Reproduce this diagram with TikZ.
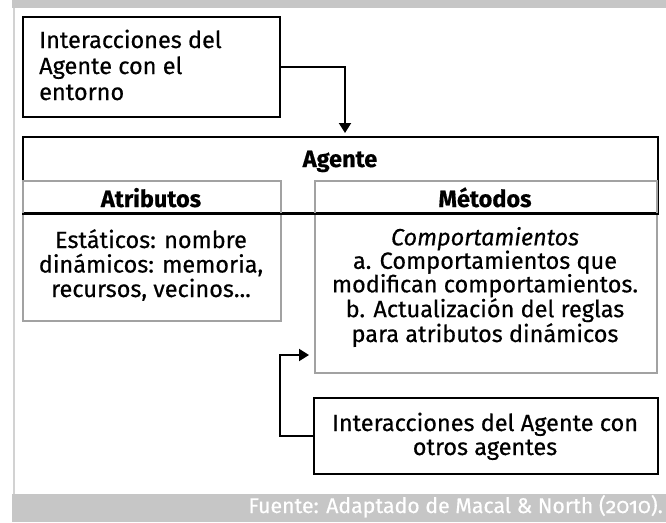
\documentclass[tikz,border=0pt]{standalone}
\usepackage{fontspec}
\setmainfont{Fira Sans}[FakeBold=0.5]
\newfontfamily\oldnum{Fira Sans}[Numbers=OldStyle,FakeBold=0.5]
\usetikzlibrary{arrows.meta}
\definecolor{barg}{HTML}{C6C6C6}
\definecolor{boxg}{HTML}{A2A2A2}
\definecolor{lineg}{HTML}{D2D2D2}
\begin{document}
\begin{tikzpicture}[x=1pt,y=-1pt,
  blackbox/.style={draw=black,line width=2pt,inner sep=0pt,anchor=north west},
  graybox/.style={draw=boxg,line width=2pt,inner sep=0pt,anchor=north west},
  txt/.style={inner sep=0pt,font=\fontsize{23.5}{26}\selectfont},
  conn/.style={line width=2pt,-{Triangle[length=10pt,width=12pt]}}]
\useasboundingbox (0,0) rectangle (666,522);
\fill[barg] (12,0) rectangle (666,8);
\fill[barg] (12,494) rectangle (666,522);
\draw[lineg,line width=2pt] (13.5,8) -- (13.5,494);
% boxes
\node[blackbox,minimum width=257pt,minimum height=100pt] (env) at (22,16) {};
\node[blackbox,minimum width=635pt,minimum height=76pt] (agent) at (22,136) {};
\node[graybox,minimum width=258pt,minimum height=140pt] (atr) at (22,180) {};
\node[graybox,minimum width=342pt,minimum height=192pt] (met) at (314,180) {};
\node[blackbox,minimum width=344pt,minimum height=76pt] (otros) at (313,397) {};
\draw[line width=2pt] (agent.south west) -- (agent.south east);
% texts (base = last line)
\node[txt,anchor=base west,align=left] (t1) at (39,100) {Interacciones del\\Agente con el\\entorno};
\node[txt,anchor=base] (tag) at (340,167) {\textbf{Agente}};
\node[txt,anchor=base] (tat) at (151,207) {\textbf{Atributos}};
\node[txt,anchor=base,align=center,font=\fontsize{23.5}{24.5}\selectfont] (tatb) at (151,297) {Estáticos: nombre\\dinámicos: memoria,\\recursos, vecinos...};
\node[txt,anchor=base] (tme) at (485,207) {\textbf{Métodos}};
\node[txt,anchor=base,align=center,font=\fontsize{23.5}{23.5}\selectfont] (tmeb) at (485,342) {\textit{Comportamientos}\\a. Comportamientos que\\modifican comportamientos.\\b. Actualización del reglas\\para atributos dinámicos};
\node[txt,anchor=base,align=center,font=\fontsize{23.5}{24}\selectfont] (tot) at (485,455) {Interacciones del Agente con\\otros agentes};
\node[txt,anchor=base east,text=white,font=\fontsize{21.3}{24}\selectfont\oldnum] (src) at (663,513) {Fuente: Adaptado de Macal \& North (2010).};
% connectors
\coordinate (a1) at (345,136);
\draw[conn,shorten >=3pt] (env.east) -| (a1);
\coordinate (b1) at (280,355);
\draw[conn,shorten >=5pt] (otros.west) -| (b1) -- (b1 -| met.west);
\end{tikzpicture}
\end{document}
